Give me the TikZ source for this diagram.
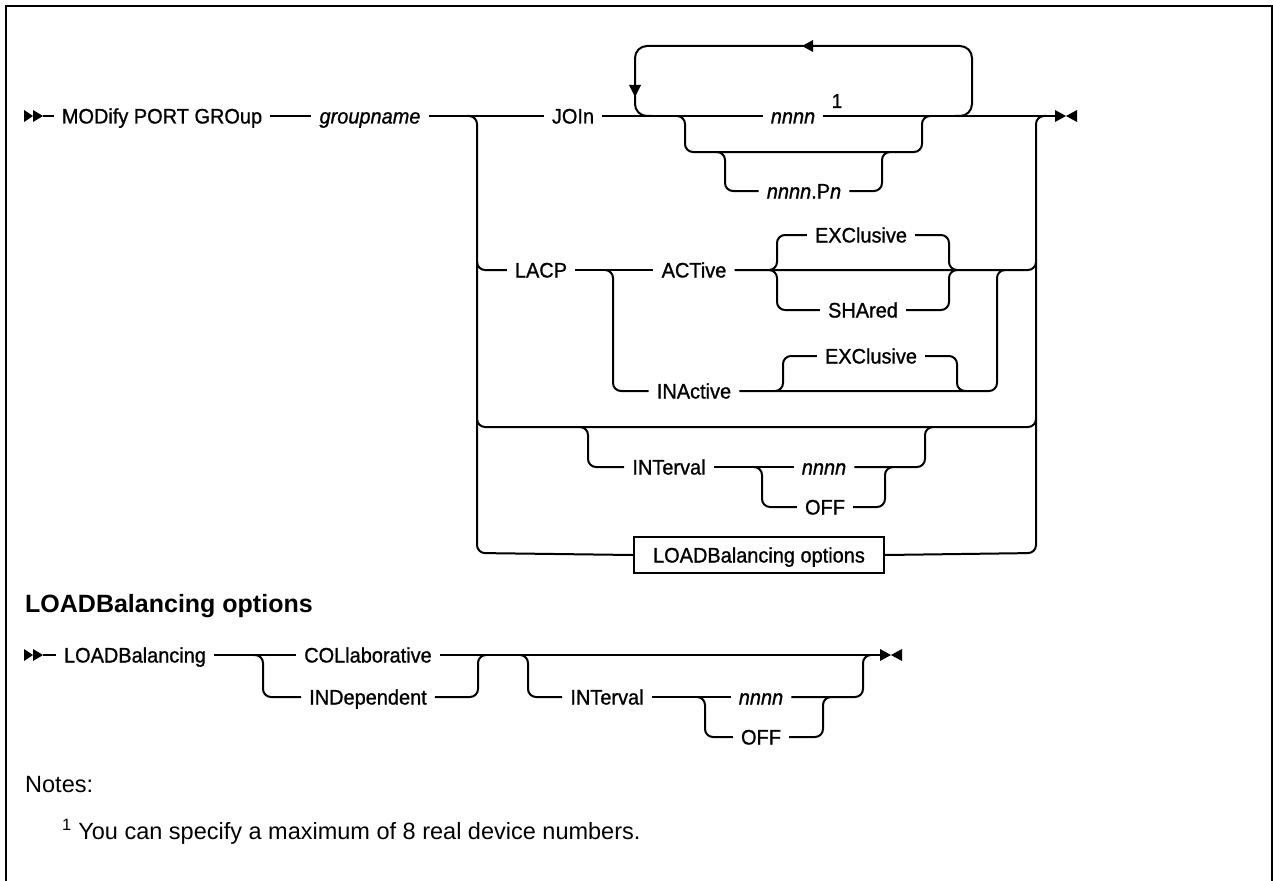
\documentclass[tikz,border=0pt]{standalone}
\usepackage{fontspec}
\setmainfont{Liberation Sans}
\newfontfamily\labf[FakeBold=1,FakeStretch=0.95]{Liberation Sans}
\begin{document}
\begin{tikzpicture}[x=1pt,y=-1pt,
  rr/.style={line width=2pt, rounded corners=8pt},
  ln/.style={line width=2pt},
  lbl/.style={inner xsep=8pt, inner ysep=2pt, text height=15pt, text depth=0pt, font=\labf\fontsize{21}{25}\selectfont},
  itl/.style={lbl, font=\labf\fontsize{21}{25}\selectfont\itshape},
  boxnode/.style={draw, line width=2pt, minimum width=250pt, minimum height=36pt, inner sep=0pt, text height=15pt, text depth=0pt, font=\labf\fontsize{21}{25}\selectfont},
  tipfill/.style={fill=black}
]
\useasboundingbox (0,0) rectangle (1273,880);
% frame
\draw[line width=2.5pt] (6,884) -- (6,6) -- (1272,6) -- (1272,884);

% ---------- main diagram ----------
\fill[tipfill] (24,110) -- (33,116) -- (24,122) -- cycle;
\fill[tipfill] (33,110) -- (43,116) -- (33,122) -- cycle;
\coordinate (st1) at (43,116);
\node[lbl] (modify) at (162,116) {MODify PORT GROup};
\node[itl] (gname) at (370,116) {groupname};
\node[lbl] (join) at (573,116) {JOIn};
\node[itl] (nn1) at (793,116) {nnnn};
\node[font=\labf\fontsize{20}{22}\selectfont, inner sep=0pt, text height=14pt, text depth=0pt] (sup1) at (837,101) {1};
\node[lbl] (npn) at (804,191) {\itshape nnnn\upshape.P\itshape n};
\node[lbl] (lacp) at (541,270) {LACP};
\node[lbl] (active) at (694,270) {ACTive};
\node[lbl] (exc1) at (861,235) {EXClusive};
\node[lbl] (shared) at (863,310) {SHAred};
\node[lbl] (inactive) at (694,391) {INActive};
\node[lbl] (exc2) at (871,356) {EXClusive};
\node[lbl] (intv1) at (669,467) {INTerval};
\node[itl] (nn2) at (824,467) {nnnn};
\node[lbl] (off1) at (825,507) {OFF};
\node[boxnode] (box) at (759,555) {LOADBalancing options};
\coordinate (end1) at (1055,116);
\fill[tipfill] (1055,110) -- (1066,116) -- (1055,122) -- cycle;
\fill[tipfill] (1077,110) -- (1066,116) -- (1077,122) -- cycle;

% main line
\draw[ln] (st1) -- (modify.west);
\draw[ln] (modify.east) -- (gname.west);
\draw[ln] (gname.east) -- (join.west);
\draw[ln] (join.east) -- (nn1.west);
\draw[ln] (nn1.east) -- (end1);
% big choice left and right
\draw[rr] (467,116) -- (477,116) -- (477,553) -- (box.west);
\draw[rr] (box.east) -- (1036,553) -- (1036,116) -- (1046,116);
% repeat loop
\draw[line width=2pt, rounded corners=12pt] (652,116) -- (635,116) -- (635,46) -- (972,46) -- (972,116) -- (955,116);
\fill[tipfill] (629,85) -- (641,85) -- (635,97) -- cycle;
\fill[tipfill] (813,40) -- (813,52) -- (802,46) -- cycle;
% nnnn choice
\draw[rr] (677,116) -- (685,116) -- (685,152) -- (922,152) -- (922,116) -- (930,116);
\draw[rr] (717,152) -- (725,152) -- (725,191) -- (npn.west);
\draw[rr] (npn.east) -- (882,191) -- (882,152) -- (890,152);
% LACP row
\draw[rr] (477,262) -- (477,270) -- (lacp.west);
\draw[ln] (lacp.east) -- (active.west);
\draw[rr] (active.east) -- (1036,270) -- (1036,262);
\draw[rr] (605,270) -- (613,270) -- (613,391) -- (inactive.west);
\draw[rr] (inactive.east) -- (997,391) -- (997,270) -- (1005,270);
% ACTive choice
\draw[rr] (769,270) -- (777,270) -- (777,235) -- (exc1.west);
\draw[rr] (exc1.east) -- (949,235) -- (949,270) -- (957,270);
\draw[rr] (769,270) -- (777,270) -- (777,310) -- (shared.west);
\draw[rr] (shared.east) -- (949,310) -- (949,270) -- (957,270);
% INActive choice
\draw[rr] (775,391) -- (783,391) -- (783,356) -- (exc2.west);
\draw[rr] (exc2.east) -- (957,356) -- (957,391) -- (965,391);
% empty row
\draw[rr] (477,419) -- (477,427) -- (1036,427) -- (1036,419);
% INTerval group
\draw[rr] (580,427) -- (588,427) -- (588,467) -- (intv1.west);
\draw[ln] (intv1.east) -- (nn2.west);
\draw[rr] (nn2.east) -- (925,467) -- (925,427) -- (933,427);
\draw[rr] (754,467) -- (762,467) -- (762,507) -- (off1.west);
\draw[rr] (off1.east) -- (885,507) -- (885,467) -- (893,467);

% ---------- LOADBalancing options ----------
\node[anchor=west, inner sep=0pt, font=\fontsize{25}{29}\selectfont\bfseries] (head) at (25,606) {LOADBalancing options};

\fill[tipfill] (24,649) -- (33,655) -- (24,661) -- cycle;
\fill[tipfill] (33,649) -- (43,655) -- (33,661) -- cycle;
\coordinate (st2) at (43,655);
\node[lbl] (lb) at (135,655) {LOADBalancing};
\node[lbl] (colab) at (368,655) {COLlaborative};
\node[lbl] (indep) at (368,697) {INDependent};
\node[lbl] (intv2) at (607,697) {INTerval};
\node[itl] (nn3) at (761,697) {nnnn};
\node[lbl] (off2) at (761,737) {OFF};
\coordinate (end2) at (880,655);
\fill[tipfill] (880,649) -- (891,655) -- (880,661) -- cycle;
\fill[tipfill] (902,649) -- (891,655) -- (902,661) -- cycle;

\draw[ln] (st2) -- (lb.west);
\draw[ln] (lb.east) -- (colab.west);
\draw[ln] (colab.east) -- (end2);
\draw[rr] (253,655) -- (263,655) -- (263,697) -- (indep.west);
\draw[rr] (indep.east) -- (478,697) -- (478,655) -- (486,655);
\draw[rr] (520,655) -- (528,655) -- (528,697) -- (intv2.west);
\draw[ln] (intv2.east) -- (nn3.west);
\draw[rr] (nn3.east) -- (863,697) -- (863,655) -- (871,655);
\draw[rr] (697,697) -- (705,697) -- (705,737) -- (off2.west);
\draw[rr] (off2.east) -- (823,737) -- (823,697) -- (831,697);

% ---------- notes ----------
\node[anchor=west, inner sep=0pt, font=\fontsize{23.5}{28}\selectfont] (notes) at (25,785) {Notes:};
\node[anchor=west, inner sep=0pt, font=\fontsize{23.5}{28}\selectfont] (fn) at (62,832) {\textsuperscript{1} You can specify a maximum of 8 real device numbers.};
\end{tikzpicture}
\end{document}
